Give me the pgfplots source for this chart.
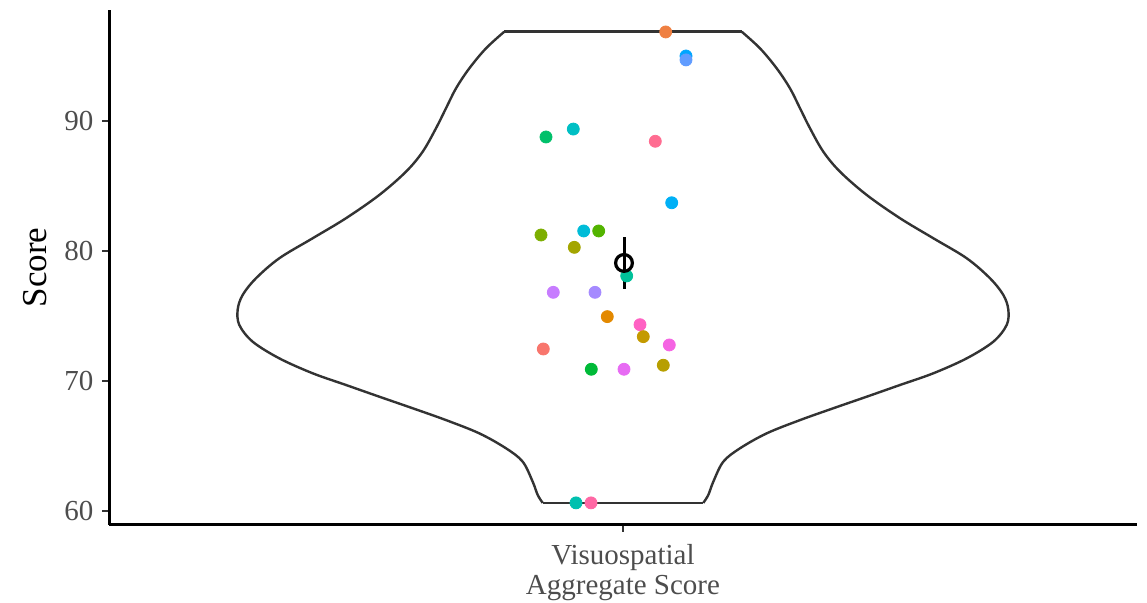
\documentclass[border=0pt]{standalone}
\usepackage{pgfplots}
\pgfplotsset{compat=1.18}
\usepackage{fontspec}
\setmainfont{Liberation Serif}
\definecolor{tickgray}{HTML}{333333}
\definecolor{labgray}{HTML}{4D4D4D}
\definecolor{violinline}{HTML}{333333}
\definecolor{p1}{HTML}{EF8042}
\definecolor{p2}{HTML}{00A5FF}
\definecolor{p3}{HTML}{619CFF}
\definecolor{p4}{HTML}{00C06A}
\definecolor{p5}{HTML}{00BFC4}
\definecolor{p6}{HTML}{FF6C91}
\definecolor{p7}{HTML}{00B0F6}
\definecolor{p8}{HTML}{7CAE00}
\definecolor{p9}{HTML}{00BCD8}
\definecolor{p10}{HTML}{53B400}
\definecolor{p11}{HTML}{A3A500}
\definecolor{p12}{HTML}{00C19A}
\definecolor{p13}{HTML}{C77CFF}
\definecolor{p14}{HTML}{A58AFF}
\definecolor{p15}{HTML}{E38900}
\definecolor{p16}{HTML}{FF61C3}
\definecolor{p17}{HTML}{C49A00}
\definecolor{p18}{HTML}{F564E3}
\definecolor{p19}{HTML}{F8766D}
\definecolor{p20}{HTML}{00BA38}
\definecolor{p21}{HTML}{E76BF3}
\definecolor{p22}{HTML}{B79F00}
\definecolor{p23}{HTML}{00C0AF}
\definecolor{p24}{HTML}{FF67A4}
\begin{document}
\begin{tikzpicture}
\useasboundingbox (-54.75pt,-39pt) rectangle (518.75pt,262.5pt);
\begin{axis}[
  at={(0,0)}, anchor=south west,
  scale only axis, width=513.75pt, height=257.5pt,
  xmin=-513.5, xmax=514, ymin=58.92, ymax=98.54,
  axis x line*=bottom, axis y line*=left,
  axis line style={line width=1.5pt, black},
  tick style={line width=1.1pt, color=tickgray},
  tick align=outside, major tick length=3.5pt,
  xtick={0}, xticklabels={{Visuospatial\\Aggregate Score}},
  xticklabel style={align=center, font=\fontsize{14.5}{15}\selectfont, text=labgray, yshift=-2.5pt},
  ytick={60,70,80,90},
  yticklabel style={font=\fontsize{14.5}{15}\selectfont, text=labgray, xshift=-1pt},
  ylabel={Score},
  every axis y label/.style={at={(axis description cs:-0.072,0.5)}, rotate=90, anchor=center, font=\fontsize{17.5}{20}\selectfont},
  /pgf/number format/assume math mode=true,
  clip=false,
]
% violin outline (right and mirrored left)
\addplot[violinline, line width=1.2pt, smooth, tension=0.55] coordinates {
(118.7,96.87) (137,95.59) (153.7,94.05) (167,92.51) (177,90.98) (187,89.44) (200.3,87.64) (217,86.10) (243.7,84.31) (277,82.52) (310.3,80.98) (343.7,79.44) (367,77.90) (380.3,76.62) (385.3,75.5) (383.7,74.31) (370.3,73.02) (343.7,71.74) (310.3,70.59) (277,69.69) (243.7,68.79) (210.3,67.90) (177,66.99) (143.7,65.97) (117,64.82) (100.3,63.79) (90.3,62.25) (85.3,61.23) (80.3,60.62)};
\addplot[violinline, line width=1.2pt, smooth, tension=0.55] coordinates {
(-118.7,96.87) (-137,95.59) (-153.7,94.05) (-167,92.51) (-177,90.98) (-187,89.44) (-200.3,87.64) (-217,86.10) (-243.7,84.31) (-277,82.52) (-310.3,80.98) (-343.7,79.44) (-367,77.90) (-380.3,76.62) (-385.3,75.5) (-383.7,74.31) (-370.3,73.02) (-343.7,71.74) (-310.3,70.59) (-277,69.69) (-243.7,68.79) (-210.3,67.90) (-177,66.99) (-143.7,65.97) (-117,64.82) (-100.3,63.79) (-90.3,62.25) (-85.3,61.23) (-80.3,60.62)};
\addplot[violinline, line width=1.2pt] coordinates {(-118.7,96.87) (118.7,96.87)};
\addplot[violinline, line width=1.2pt] coordinates {(-80.3,60.62) (80.3,60.62)};
% jittered points
\addplot[only marks, mark=*, mark size=3pt, p1] coordinates {(42.7,96.85)};
\addplot[only marks, mark=*, mark size=3pt, p2] coordinates {(63,95.0)};
\addplot[only marks, mark=*, mark size=3pt, p3] coordinates {(63,94.7)};
\addplot[only marks, mark=*, mark size=3pt, p4] coordinates {(-77,88.77)};
\addplot[only marks, mark=*, mark size=3pt, p5] coordinates {(-49.7,89.38)};
\addplot[only marks, mark=*, mark size=3pt, p6] coordinates {(32.3,88.44)};
\addplot[only marks, mark=*, mark size=3pt, p7] coordinates {(48.7,83.71)};
\addplot[only marks, mark=*, mark size=3pt, p8] coordinates {(-82,81.23)};
\addplot[only marks, mark=*, mark size=3pt, p9] coordinates {(-39.3,81.54)};
\addplot[only marks, mark=*, mark size=3pt, p10] coordinates {(-24.3,81.54)};
\addplot[only marks, mark=*, mark size=3pt, p11] coordinates {(-48.7,80.28)};
\addplot[only marks, mark=*, mark size=3pt, p12] coordinates {(3.7,78.08)};
\addplot[only marks, mark=*, mark size=3pt, p13] coordinates {(-69.7,76.82)};
\addplot[only marks, mark=*, mark size=3pt, p14] coordinates {(-28,76.82)};
\addplot[only marks, mark=*, mark size=3pt, p15] coordinates {(-15.7,74.95)};
\addplot[only marks, mark=*, mark size=3pt, p16] coordinates {(17,74.33)};
\addplot[only marks, mark=*, mark size=3pt, p17] coordinates {(20.3,73.41)};
\addplot[only marks, mark=*, mark size=3pt, p18] coordinates {(46.3,72.77)};
\addplot[only marks, mark=*, mark size=3pt, p19] coordinates {(-79.7,72.46)};
\addplot[only marks, mark=*, mark size=3pt, p20] coordinates {(-31.7,70.90)};
\addplot[only marks, mark=*, mark size=3pt, p21] coordinates {(1,70.90)};
\addplot[only marks, mark=*, mark size=3pt, p22] coordinates {(40.3,71.21)};
\addplot[only marks, mark=*, mark size=3pt, p23] coordinates {(-47,60.62)};
\addplot[only marks, mark=*, mark size=3pt, p24] coordinates {(-32,60.62)};
% mean and error bar
\addplot[black, line width=1.5pt, only marks, mark=o, mark size=4.2pt, mark options={line width=1.6pt},
  error bars/.cd, y dir=both, y explicit, error mark=none, error bar style={line width=1.5pt}]
  coordinates {(1,79.08) +- (0,1.98)};
\end{axis}
\end{tikzpicture}
\end{document}
